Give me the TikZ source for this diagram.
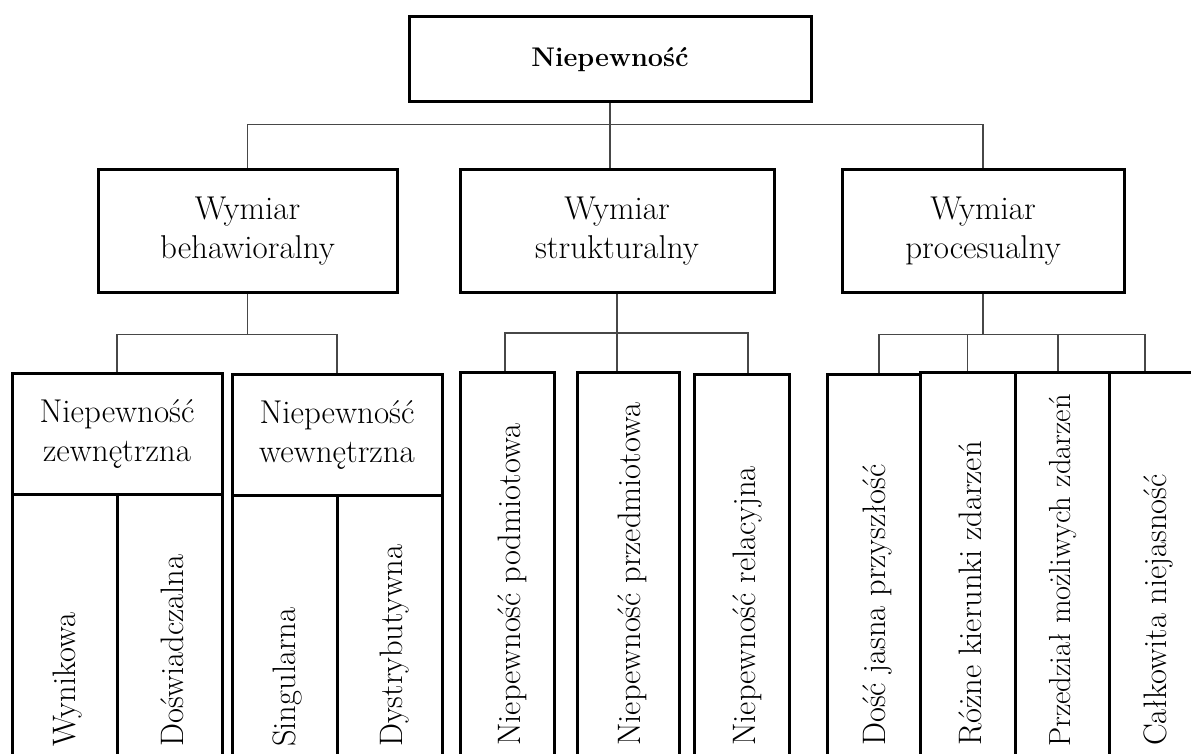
\documentclass[tikz,border=0pt]{standalone}
\usepackage{fontspec}
\begin{document}
\begin{tikzpicture}[x=1pt,y=-1pt,
  box/.style={draw, line width=3pt, inner sep=0pt, align=center,
    font=\fontsize{33}{39}\selectfont},
  conn/.style={draw=black!72, line width=1.6pt},
  vtext/.style={rotate=90, anchor=west, inner sep=0pt,
    font=\fontsize{32.5}{39}\selectfont}]
\useasboundingbox (0,0) rectangle (1191,754);
\clip (0,0) rectangle (1191,754);

% top
\node[box, minimum width=402, minimum height=85, font=\fontsize{27}{32}\selectfont\bfseries] (top) at (610,59.5) {Niepewność};

% dimensions
\node[box, minimum width=299, minimum height=122] (beh) at (247.5,231) {Wymiar\\behawioralny};
\node[box, minimum width=314, minimum height=122] (str) at (617,231) {Wymiar\\strukturalny};
\node[box, minimum width=282, minimum height=122] (pro) at (983,231) {Wymiar\\procesualny};

% behavioral sub-boxes
\node[box, minimum width=210, minimum height=121] (zew) at (117,433.5) {Niepewność\\zewnętrzna};
\node[box, minimum width=210, minimum height=121] (wew) at (337,434.5) {Niepewność\\wewnętrzna};
\node[box, minimum width=105, minimum height=326] (wyn) at (64.5,657) {};
\node[box, minimum width=105, minimum height=326] (dos) at (169.5,657) {};
\node[box, minimum width=105, minimum height=326] (sin) at (284.5,658) {};
\node[box, minimum width=105, minimum height=326] (dys) at (389.5,658) {};

% structural sub-boxes
\node[box, minimum width=94, minimum height=448] (pod) at (507,596) {};
\node[box, minimum width=102, minimum height=448] (prz) at (628,596) {};
\node[box, minimum width=95, minimum height=446] (rel) at (741.5,597) {};

% process sub-boxes
\node[box, minimum width=93, minimum height=446] (doc) at (873.5,597) {};
\node[box, minimum width=95, minimum height=448] (roz) at (967.5,596) {};
\node[box, minimum width=94, minimum height=448] (prd) at (1062,596) {};
\node[box, minimum width=94, minimum height=448] (cal) at (1156,596) {};

% rotated labels
\node[vtext] (twyn) at (68,747) {Wynikowa};
\node[vtext] (tdos) at (172,747) {Doświadczalna};
\node[vtext] (tsin) at (287,747) {Singularna};
\node[vtext] (tdys) at (395,747) {Dystrybutywna};
\node[vtext] (tpod) at (512,746) {Niepewność podmiotowa};
\node[vtext] (tprz) at (632,746) {Niepewność przedmiotowa};
\node[vtext] (trel) at (747,746) {Niepewność relacyjna};
\node[vtext] (tdoc) at (877,746) {Dość jasna przyszłość};
\node[vtext] (troz) at (970,746) {Różne kierunki zdarzeń};
\node[vtext, font=\fontsize{30.5}{39}\selectfont] (tprd) at (1063,747) {Przedział możliwych zdarzeń};
\node[vtext] (tcal) at (1158,746) {Całkowita niejasność};

% connectors: level 1
\draw[conn] (top.south) -- (top.south |- str.north);
\draw[conn] (beh.north) -- ++(0,-44) -| (pro.north);

% behavioral
\draw[conn] (beh.south) -- ++(0,41) coordinate (bbar);
\draw[conn] (zew.north) |- (bbar) -| (wew.north);

% structural
\draw[conn] (str.south) -- (str.south |- prz.north);
\draw[conn] ([xshift=-2pt]pod.north) |- (str.south |- 0,333) -| ([xshift=6.5pt]rel.north);

% process
\draw[conn] (pro.south) -- ++(0,41) coordinate (pbar);
\draw[conn] ([xshift=5.5pt]doc.north) |- (pbar) -| ([xshift=-11pt]cal.north);
\draw[conn] (roz.north) -- (roz.north |- pbar);
\draw[conn] ([xshift=-4pt]prd.north) -- ([xshift=-4pt]prd.north |- pbar);
\end{tikzpicture}
\end{document}
